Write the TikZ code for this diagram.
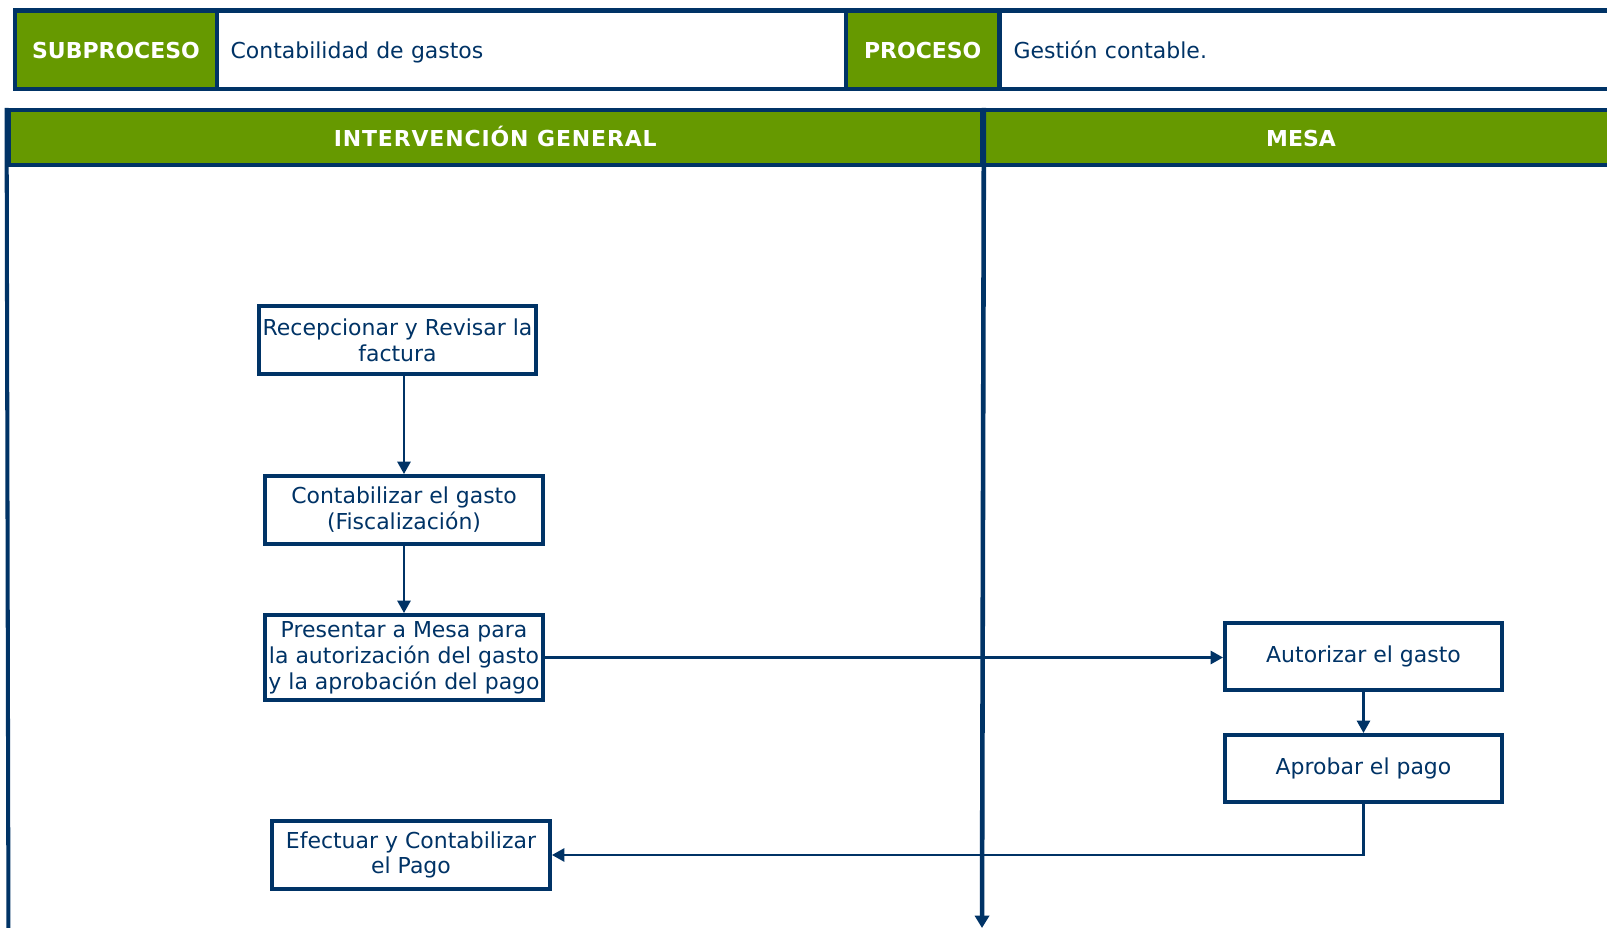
\documentclass[tikz,border=0pt]{standalone}
\usepackage{fontspec}
\setmainfont{DejaVu Sans}
\usetikzlibrary{positioning,arrows.meta}
\definecolor{azulproc}{HTML}{003366}
\definecolor{verdeproc}{HTML}{669900}
\tikzset{
    % celle verdi dell'intestazione
    celda/.style={draw=azulproc, line width=2.3pt, fill=verdeproc, text=white,
                  font=\fontsize{12.5}{14.7}\selectfont\bfseries,
                  text height=10.4pt, text depth=0pt,
                  inner sep=0pt, minimum height=1.57cm},
    % celle bianche con il testo
    celdatexto/.style={draw=azulproc, line width=2.3pt, fill=white, text=azulproc,
                       font=\fontsize{12.5}{14.7}\selectfont,
                       text height=10.4pt, text depth=0pt,
                       inner xsep=0.28cm, inner ysep=0pt, align=left,
                       minimum height=1.57cm},
    % intestazione delle corsie
    carril/.style={draw=azulproc, line width=2.3pt, fill=verdeproc, text=white,
                   font=\fontsize{12.5}{14.7}\selectfont\bfseries,
                   text height=10.4pt, text depth=0pt,
                   inner sep=0pt, minimum height=1.1cm},
    % attivita
    actividad/.style={draw=azulproc, line width=2.3pt, fill=white, text=azulproc,
                      font=\fontsize{12.5}{14.7}\selectfont, align=center,
                      inner sep=0pt, minimum width=5.56cm, minimum height=1.36cm},
    flecha/.style={draw=azulproc, line width=1.2pt,
                   -{Triangle[length=7pt,width=7.5pt]}},
    linea/.style={draw=azulproc, line width=1.2pt}
}

\begin{document}
\begin{tikzpicture}[x=0.02cm, y=-0.02cm]
    \useasboundingbox (0,0) rectangle (1607,928);
    \clip (0,0) rectangle (1607,928);

    % intestazione
    \node[celda, minimum width=4.03cm] (sub) at (116,49.75) {SUBPROCESO};
    \node[celdatexto, text width=12.03cm] (subtxt) at (531.25,49.75) {Contabilidad de gastos};
    \node[celda, minimum width=3.07cm] (proc) at (922.75,49.75) {PROCESO};
    \node[celdatexto, text width=11.85cm] (proctxt) at (1309.75,49.75) {Gestión contable.};

    % corsie
    \node[carril, minimum width=19.47cm] (ig) at (495.25,137.5)
        {\addfontfeature{LetterSpace=4}INTERVENCIÓN GENERAL};
    \node[carril, minimum width=12.76cm] (mesa) at (1301,137.5) {MESA};
    \coordinate (fin) at (982,928);
    \coordinate (fondo) at (8.5,945);
    \draw[azulproc, line width=2.3pt] (ig.north west) -- (fondo);
    \draw[azulproc, line width=2.6pt, -{Triangle[length=7pt,width=8pt]}]
        (ig.north east) -- (fin);

    % attivita
    \node[actividad, minimum width=5.54cm] (recep) at (397.5,340)
        {Recepcionar y Revisar la\\factura};
    \node[actividad] (conta) at (404,510)
        {Contabilizar el gasto\\(Fiscalización)};
    \node[actividad, minimum height=1.70cm] (pres) at (404,657.5)
        {Presentar a Mesa para\\la autorización del gasto\\y la aprobación del pago};
    \node[actividad, minimum width=5.54cm, minimum height=1.34cm] (autor) at (1363.5,656.5)
        {Autorizar el gasto};
    \node[actividad, minimum width=5.54cm, minimum height=1.34cm] (aprob) at (1363.5,768.5)
        {Aprobar el pago};
    \node[actividad] (efect) at (411,855)
        {Efectuar y Contabilizar\\el Pago};

    % flussi
    \draw[flecha] (recep.south -| conta) -- (conta.north);
    \draw[flecha] (conta) -- (pres);
    \draw[flecha] (pres.east) -- (pres.east -| autor.west);
    \draw[flecha] (autor) -- (aprob);
    \draw[flecha] (aprob.south) |- (efect.east);
\end{tikzpicture}
\end{document}
